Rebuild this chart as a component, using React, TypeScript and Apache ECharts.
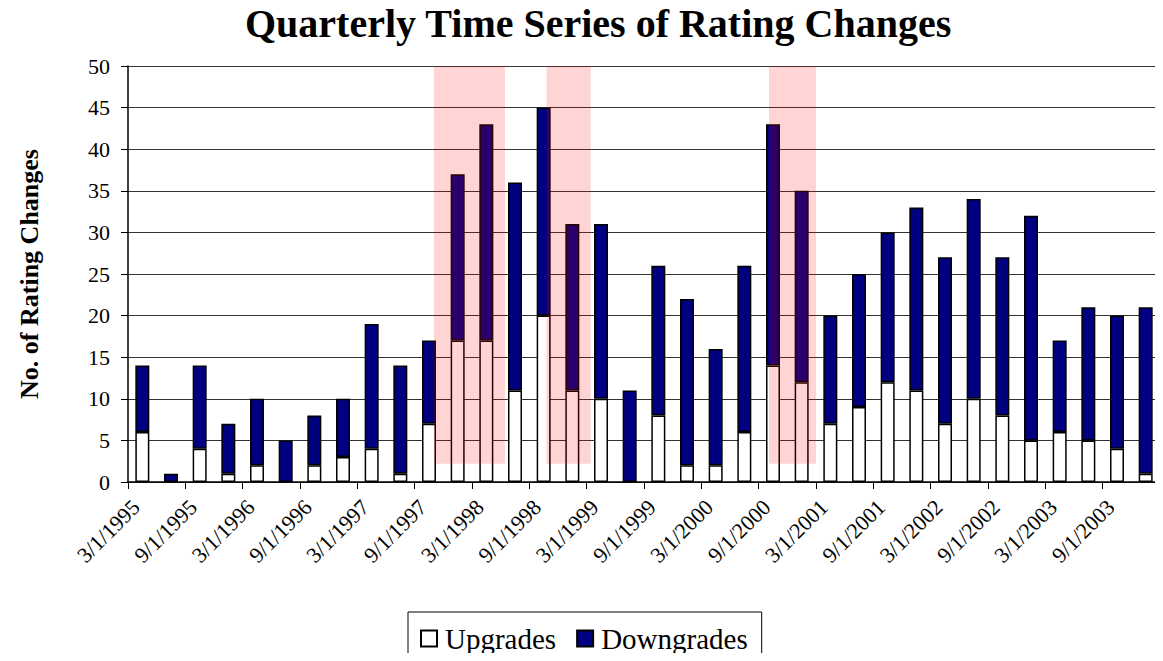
import React, { useEffect, useRef } from "react";
import * as echarts from "echarts";

const categories = [
  "3/1/1995", "6/1/1995", "9/1/1995", "12/1/1995",
  "3/1/1996", "6/1/1996", "9/1/1996", "12/1/1996",
  "3/1/1997", "6/1/1997", "9/1/1997", "12/1/1997",
  "3/1/1998", "6/1/1998", "9/1/1998", "12/1/1998",
  "3/1/1999", "6/1/1999", "9/1/1999", "12/1/1999",
  "3/1/2000", "6/1/2000", "9/1/2000", "12/1/2000",
  "3/1/2001", "6/1/2001", "9/1/2001", "12/1/2001",
  "3/1/2002", "6/1/2002", "9/1/2002", "12/1/2002",
  "3/1/2003", "6/1/2003", "9/1/2003", "12/1/2003",
];

const upgrades = [
  6, 0, 4, 1, 2, 0, 2, 3, 4, 1, 7, 17, 17, 11, 20, 11, 10, 0,
  8, 2, 2, 6, 14, 12, 7, 9, 12, 11, 7, 10, 8, 5, 6, 5, 4, 1,
];

const downgrades = [
  8, 1, 10, 6, 8, 5, 6, 7, 15, 13, 10, 20, 26, 25, 25, 20, 21, 11,
  18, 20, 14, 20, 29, 23, 13, 16, 18, 22, 20, 24, 19, 27, 11, 16, 16, 20,
];

// shaded periods, in category-position units [start, end]
const shadedPeriods = [
  [10.67, 13.15],
  [14.6, 16.14],
  [22.36, 24.0],
];
const shadeBottom = 2.2;
const shadeTop = 50;

const FONT = "'Liberation Serif', 'Times New Roman', serif";

export default function App() {
  const ref = useRef<HTMLDivElement>(null);
  useEffect(() => {
    if (!ref.current) return;
    const chart = echarts.init(ref.current, undefined, { renderer: "svg" });
    chart.setOption({
      animation: false,
      backgroundColor: "#ffffff",
      textStyle: { fontFamily: FONT, color: "#000" },
      title: {
        text: "Quarterly Time Series of Rating Changes",
        left: 245,
        top: 3,
        padding: 0,
        textStyle: { fontFamily: FONT, fontSize: 40, fontWeight: "bold", color: "#000" },
      },
      grid: { left: 128, right: 3, top: 66, bottom: 179, containLabel: false },
      legend: {
        top: 612,
        left: 408,
        icon: "rect",
        data: ["Upgrades", "Downgrades"],
        itemWidth: 16,
        itemHeight: 16,
        itemGap: 20,
        borderColor: "#000",
        borderWidth: 1,
        padding: [12, 14, 22, 12],
        textStyle: { fontFamily: FONT, fontSize: 29, color: "#000", padding: [0, 2, 0, 3] },
      },
      xAxis: [
        {
          type: "category",
          data: categories,
          axisLine: { lineStyle: { color: "#000", width: 1.5 } },
          axisTick: { show: true, length: 7, lineStyle: { color: "#000" } },
          axisLabel: {
            interval: 1,
            rotate: 45,
            margin: 15,
            padding: [0, 9, 0, 0],
            fontFamily: FONT,
            fontSize: 22,
            color: "#000",
          },
          splitLine: { show: false },
        },
        {
          type: "value",
          min: 0,
          max: 36,
          show: false,
        },
      ],
      yAxis: {
        type: "value",
        min: 0,
        max: 50,
        interval: 5,
        name: "No. of Rating Changes",
        nameLocation: "middle",
        nameGap: 86,
        nameTextStyle: { fontFamily: FONT, fontSize: 26, fontWeight: "bold", color: "#000" },
        axisLine: { show: true, lineStyle: { color: "#000", width: 1.5 } },
        axisTick: { show: true, length: 7, lineStyle: { color: "#000" } },
        axisLabel: { fontFamily: FONT, fontSize: 22, color: "#000", margin: 18 },
        splitLine: { show: true, lineStyle: { color: "#333", width: 1 } },
      },
      series: [
        {
          name: "Upgrades",
          type: "bar",
          stack: "total",
          barWidth: 14,
          data: upgrades,
          itemStyle: { color: "#ffffff", borderColor: "#000", borderWidth: 1.5 },
          z: 2,
        },
        {
          name: "Downgrades",
          type: "bar",
          stack: "total",
          barWidth: 14,
          data: downgrades,
          itemStyle: { color: "#000080", borderColor: "#000", borderWidth: 1.5 },
          z: 2,
        },
        {
          name: "shade",
          type: "custom",
          xAxisIndex: 1,
          z: 10,
          silent: true,
          data: shadedPeriods,
          renderItem: (params: any, api: any) => {
            const p1 = api.coord([api.value(0), shadeTop]);
            const p2 = api.coord([api.value(1), shadeBottom]);
            return {
              type: "rect",
              shape: { x: p1[0], y: p1[1], width: p2[0] - p1[0], height: p2[1] - p1[1] },
              style: { fill: "rgba(255,0,0,0.17)" },
            };
          },
        },
      ],
    });
    return () => chart.dispose();
  }, []);
  return <div ref={ref} style={{ width: 1163, height: 661, margin: -8 }} />;
}
